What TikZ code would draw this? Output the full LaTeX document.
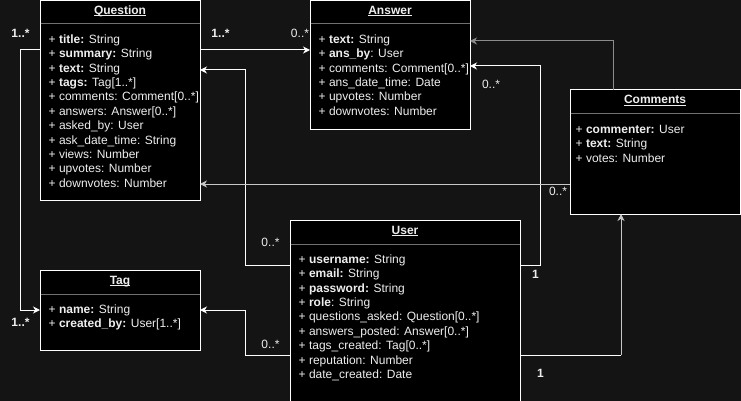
\documentclass[tikz,border=0pt]{standalone}
\usepackage{fontspec}
\setmainfont{Liberation Sans}
\usetikzlibrary{arrows.meta}
\definecolor{bg}{HTML}{141414}
\definecolor{fg}{HTML}{EEEEEE}
\definecolor{sepc}{HTML}{707070}
\definecolor{gline}{HTML}{8C8C8C}
\definecolor{lgline}{HTML}{C8C8C8}
\newcommand{\uln}[1]{\setbox0\hbox{#1}\rlap{\rule[-1.6pt]{\wd0}{0.8pt}}\box0}
\begin{document}
\begin{tikzpicture}[x=1pt,y=-1pt,
 box/.style={draw=white, fill=black, line width=1pt, inner sep=0pt, outer sep=0pt, anchor=north west},
 sepline/.style={draw=sepc, line width=1pt},
 ttl/.style={text=fg, font=\fontsize{12}{14}\selectfont\bfseries, anchor=base, inner sep=0pt},
 attr/.style={text=fg, font=\fontsize{12}{14}\selectfont, anchor=base west, inner sep=0pt},
 lbl/.style={text=fg, font=\fontsize{12}{14}\selectfont, inner sep=0pt},
 lblb/.style={lbl, font=\fontsize{12}{14}\selectfont\bfseries},
 conn/.style={draw=white, line width=1pt, -{Stealth[length=7pt,width=7pt,inset=2.2pt]}},
 plain/.style={draw=white, line width=1pt},
]
\fill[bg] (0,0) rectangle (741,401);
\useasboundingbox (0,0) rectangle (741,401);

% boxes
\node[box, minimum width=160pt, minimum height=199.5pt] (Q) at (40,0.5) {};
\node[box, minimum width=160pt, minimum height=129.5pt] (A) at (310,0.5) {};
\node[box, minimum width=170pt, minimum height=124pt] (C) at (570,90) {};
\node[box, minimum width=230pt, minimum height=183pt] (U) at (290,220) {};
\node[box, minimum width=160pt, minimum height=80pt] (T) at (40,270) {};

% separators
\draw[sepline] ([xshift=0.5pt]Q.west |- 0,24) -- ([xshift=-0.5pt]Q.east |- 0,24);
\draw[sepline] ([xshift=0.5pt]A.west |- 0,24) -- ([xshift=-0.5pt]A.east |- 0,24);
\draw[sepline] ([xshift=0.5pt]C.west |- 0,114) -- ([xshift=-0.5pt]C.east |- 0,114);
\draw[sepline] ([xshift=0.5pt]U.west |- 0,244) -- ([xshift=-0.5pt]U.east |- 0,244);
\draw[sepline] ([xshift=0.5pt]T.west |- 0,294) -- ([xshift=-0.5pt]T.east |- 0,294);

% titles
\node[ttl] (Qt) at (120,14.3) {\uln{Question}};
\node[ttl] (At) at (390,14.3) {\uln{Answer}};
\node[ttl] (Ct) at (655,104) {\uln{Comments}};
\node[ttl] (Ut) at (405,234) {\uln{User}};
\node[ttl] (Tt) at (120,284) {\uln{Tag}};

% attributes
\foreach \t [count=\i from 0] in {{\textbf{title:} String},{\textbf{summary:} String},{\textbf{text:} String},{\textbf{tags:} Tag[1..*]},{comments: Comment[0..*]},{answers: Answer[0..*]},{asked\_by: User},{ask\_date\_time: String},{views: Number},{upvotes: Number},{downvotes: Number}}
  \node[attr] (q\i) at (48.5,43.3+14.4*\i) {+ \t};
\foreach \t [count=\i from 0] in {{\textbf{text:} String},{\textbf{ans\_by}: User},{comments: Comment[0..*]},{ans\_date\_time: Date},{upvotes: Number},{downvotes: Number}}
  \node[attr] (a\i) at (318.5,43.3+14.4*\i) {+ \t};
\foreach \t [count=\i from 0] in {{\textbf{commenter:} User},{\textbf{text:} String},{votes: Number}}
  \node[attr] (c\i) at (575.5,133.3+14.4*\i) {+ \t};
\foreach \t [count=\i from 0] in {{\textbf{username:} String},{\textbf{email:} String},{\textbf{password:} String},{\textbf{role}: String},{questions\_asked: Question[0..*]},{answers\_posted: Answer[0..*]},{tags\_created: Tag[0..*]},{reputation: Number},{date\_created: Date}}
  \node[attr] (u\i) at (298.5,263.3+14.4*\i) {+ \t};
\foreach \t [count=\i from 0] in {{\textbf{name:} String},{\textbf{created\_by:} User[1..*]}}
  \node[attr] (t\i) at (48.5,313.3+14.4*\i) {+ \t};

% connectors
\draw[conn] (Q.east |- 0,50) -- (A.west |- 0,50);
\draw[conn] (Q.west |- 0,50) -- ++(-20,0) |- (T.west |- 0,310);
\draw[conn] (U.west |- 0,265) -- ++(-45,0) |- (Q.east |- 0,70);
\draw[conn] (U.west |- 0,355) -- ++(-45,0) |- (T.east |- 0,310);
\draw[conn] (U.east |- 0,265) -- ++(20,0) |- (A.east |- 0,66);
\coordinate (f1) at (621,355);
\draw[plain] (U.east |- f1) -- (f1);
\draw[conn, draw=lgline] (f1) -- (C.south -| f1);
\draw[conn, draw=gline] (C.north -| 613,0) |- (A.east |- 0,41);
\draw[conn, draw=lgline] (C.west |- 0,184) -- (Q.east |- 0,184);

% multiplicities
\node[lblb] (m1) at (20.5,33) {1..*};
\node[lblb] (m2) at (220.5,33) {1..*};
\node[lbl] (m3) at (300,33) {0..*};
\node[lbl] (m4) at (491,84) {0..*};
\node[lbl] (m5) at (558,191) {0..*};
\node[lblb] (m6) at (20.5,322) {1..*};
\node[lbl] (m7) at (270.5,242) {0..*};
\node[lbl] (m8) at (270.5,344) {0..*};
\node[lblb] (m9) at (535.5,274) {1};
\node[lblb] (m10) at (540.5,373) {1};
\end{tikzpicture}
\end{document}
